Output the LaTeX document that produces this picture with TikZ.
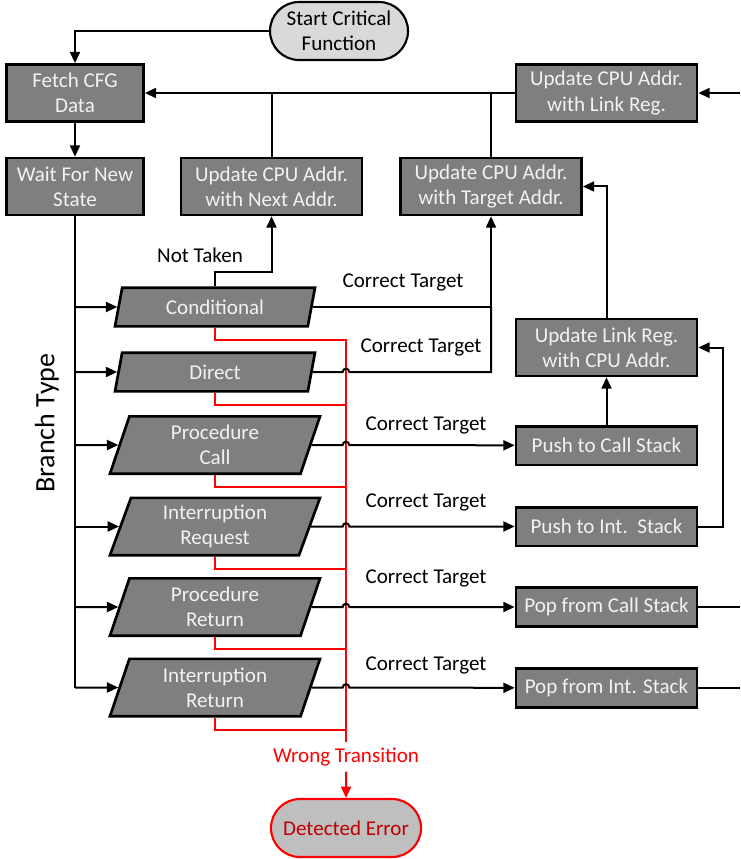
\documentclass[tikz,border=0pt]{standalone}
\usepackage{fontspec}
\setmainfont{Carlito}
\usetikzlibrary{shapes.geometric,shapes.misc,arrows.meta}

\definecolor{boxgray}{HTML}{7F7F7F}
\definecolor{boxtext}{HTML}{F2F2F2}
\definecolor{startgray}{HTML}{D9D9D9}
\definecolor{errgray}{HTML}{BFBFBF}
\definecolor{errred}{HTML}{FF0000}
\definecolor{errtext}{HTML}{C00000}

\begin{document}
\begin{tikzpicture}[x=0.75pt,y=-0.75pt,
    >={Triangle[length=8.5pt,width=7.5pt]},
    line width=1.5pt,
    font=\fontsize{15.8}{18.8}\selectfont,
    procbox/.style={draw,fill=boxgray,text=boxtext,line width=2pt,align=center,
      inner sep=0pt,minimum width=135.75pt,minimum height=42.75pt},
    leftbox/.style={procbox,minimum width=102.75pt},
    stackbox/.style={procbox,minimum height=29pt},
    branchbox/.style={draw,fill=boxgray,text=boxtext,line width=2pt,align=center,
      trapezium,trapezium left angle=64,trapezium right angle=116,
      trapezium stretches body,inner sep=0pt,minimum width=150pt,minimum height=29pt},
    tallbranch/.style={branchbox,minimum width=157.5pt,minimum height=43pt},
    termbox/.style={draw,rounded rectangle,fill=startgray,line width=1.6pt,align=center,
      inner sep=0pt,minimum width=103.5pt,minimum height=43.5pt},
    errterm/.style={termbox,draw=errred,fill=errgray,text=errtext,minimum width=112.5pt},
    errline/.style={draw=errred,line width=1.5pt}]
  \useasboundingbox (0,0) rectangle (740,859);

  % terminators
  \node[termbox] (start) at (339,31) {Start Critical\\Function};
  \node[errterm] (err) at (346,828) {Detected Error};

  % main loop
  \node[leftbox] (fetch) at (75,93) {Fetch CFG\\Data};
  \node[leftbox] (wait) at (75,186.5) {Wait For New\\State};
  \node[procbox] (next) at (271.5,186.5) {Update CPU Addr.\\with Next Addr.};
  \node[procbox] (tgt) at (491,186.5) {Update CPU Addr.\\with Target Addr.};
  \node[procbox] (lreg) at (606.5,93) {Update CPU Addr.\\with Link Reg.};
  \node[procbox] (ulink) at (606.5,347.5) {Update Link Reg.\\with CPU Addr.};

  % stacks
  \node[stackbox] (pcs) at (606.5,445.5) {Push to Call Stack};
  \node[stackbox] (pis) at (606.5,526.5) {Push to Int.\ \ Stack};
  \node[stackbox] (pcall) at (606.5,607) {Pop from Call Stack};
  \node[stackbox] (pint) at (606.5,688) {Pop from Int. Stack};

  % branch types
  \node[branchbox] (cond) at (215,307) {Conditional};
  \node[branchbox] (dir) at (215,372) {Direct};
  \node[tallbranch] (call) at (215,445) {Procedure\\Call};
  \node[tallbranch] (ireq) at (215,526.5) {Interruption\\Request};
  \node[tallbranch] (pret) at (215,607) {Procedure\\Return};
  \node[tallbranch] (iret) at (215,687.5) {Interruption\\Return};

  \node[rotate=90,font=\fontsize{21}{25}\selectfont] (btype) at (47,423) {Branch Type};
  \node (nottaken) at (200,255) {Not Taken};
  \node (ct1) at (403,282) {Correct Target};
  \node (ct2) at (421,347) {Correct Target};
  \node (ct3) at (426,425) {Correct Target};
  \node (ct4) at (426,502) {Correct Target};
  \node (ct5) at (426,578) {Correct Target};
  \node (ct6) at (426,665) {Correct Target};
  \node[text=errred] (wrong) at (346,757) {Wrong Transition};

  \coordinate (inR) at (740,93);
  \coordinate (outA) at (740,607);
  \coordinate (outB) at (740,688);

  % wrong transitions
  \foreach \n in {cond,dir,call,ireq,pret,iret}
    \draw[errline] (\n.south) -- ++(0,12) -| (wrong.north);
  \draw[errline,->] (wrong) -- (err);

  % control flow
  \draw[->] (start) -| (fetch);
  \draw[->] (fetch) -- (wait);
  \draw[->] (inR) -- (lreg);
  \draw[->] (lreg) -- (fetch);
  \draw (next) -- (next |- fetch);
  \draw (tgt) -- (tgt |- fetch);
  \draw (wait) -- (wait |- iret);
  \foreach \n in {cond,dir,call,ireq,pret,iret}
    \draw[->] (wait |- \n) -- (\n);

  \draw[->] (cond.north) -- ++(0,-14) -| (next);
  \draw[->] (cond.east) -| (tgt);
  \draw (dir.east) -- ([xshift=-2.5pt]wrong |- dir.east) arc[start angle=180,end angle=0,radius=2.5pt]
    -- (tgt |- dir.east) -- (tgt |- cond.east);
  \draw[->] (call.east) -- ([xshift=-2.5pt]wrong |- call.east) arc[start angle=180,end angle=0,radius=2.5pt] -- (pcs);
  \draw[->] (ireq.east) -- ([xshift=-2.5pt]wrong |- ireq.east) arc[start angle=180,end angle=0,radius=2.5pt] -- (pis);
  \draw[->] (pret.east) -- ([xshift=-2.5pt]wrong |- pret.east) arc[start angle=180,end angle=0,radius=2.5pt] -- (pcall);
  \draw[->] (iret.east) -- ([xshift=-2.5pt]wrong |- iret.east) arc[start angle=180,end angle=0,radius=2.5pt] -- (pint);
  \draw (pcall) -- (outA);
  \draw (pint) -- (outB);

  \draw[->] (pcs) -- (ulink);
  \draw[->] (pis.east) -- ++(25,0) |- (ulink);
  \draw[->] (ulink) |- (tgt);
\end{tikzpicture}
\end{document}
